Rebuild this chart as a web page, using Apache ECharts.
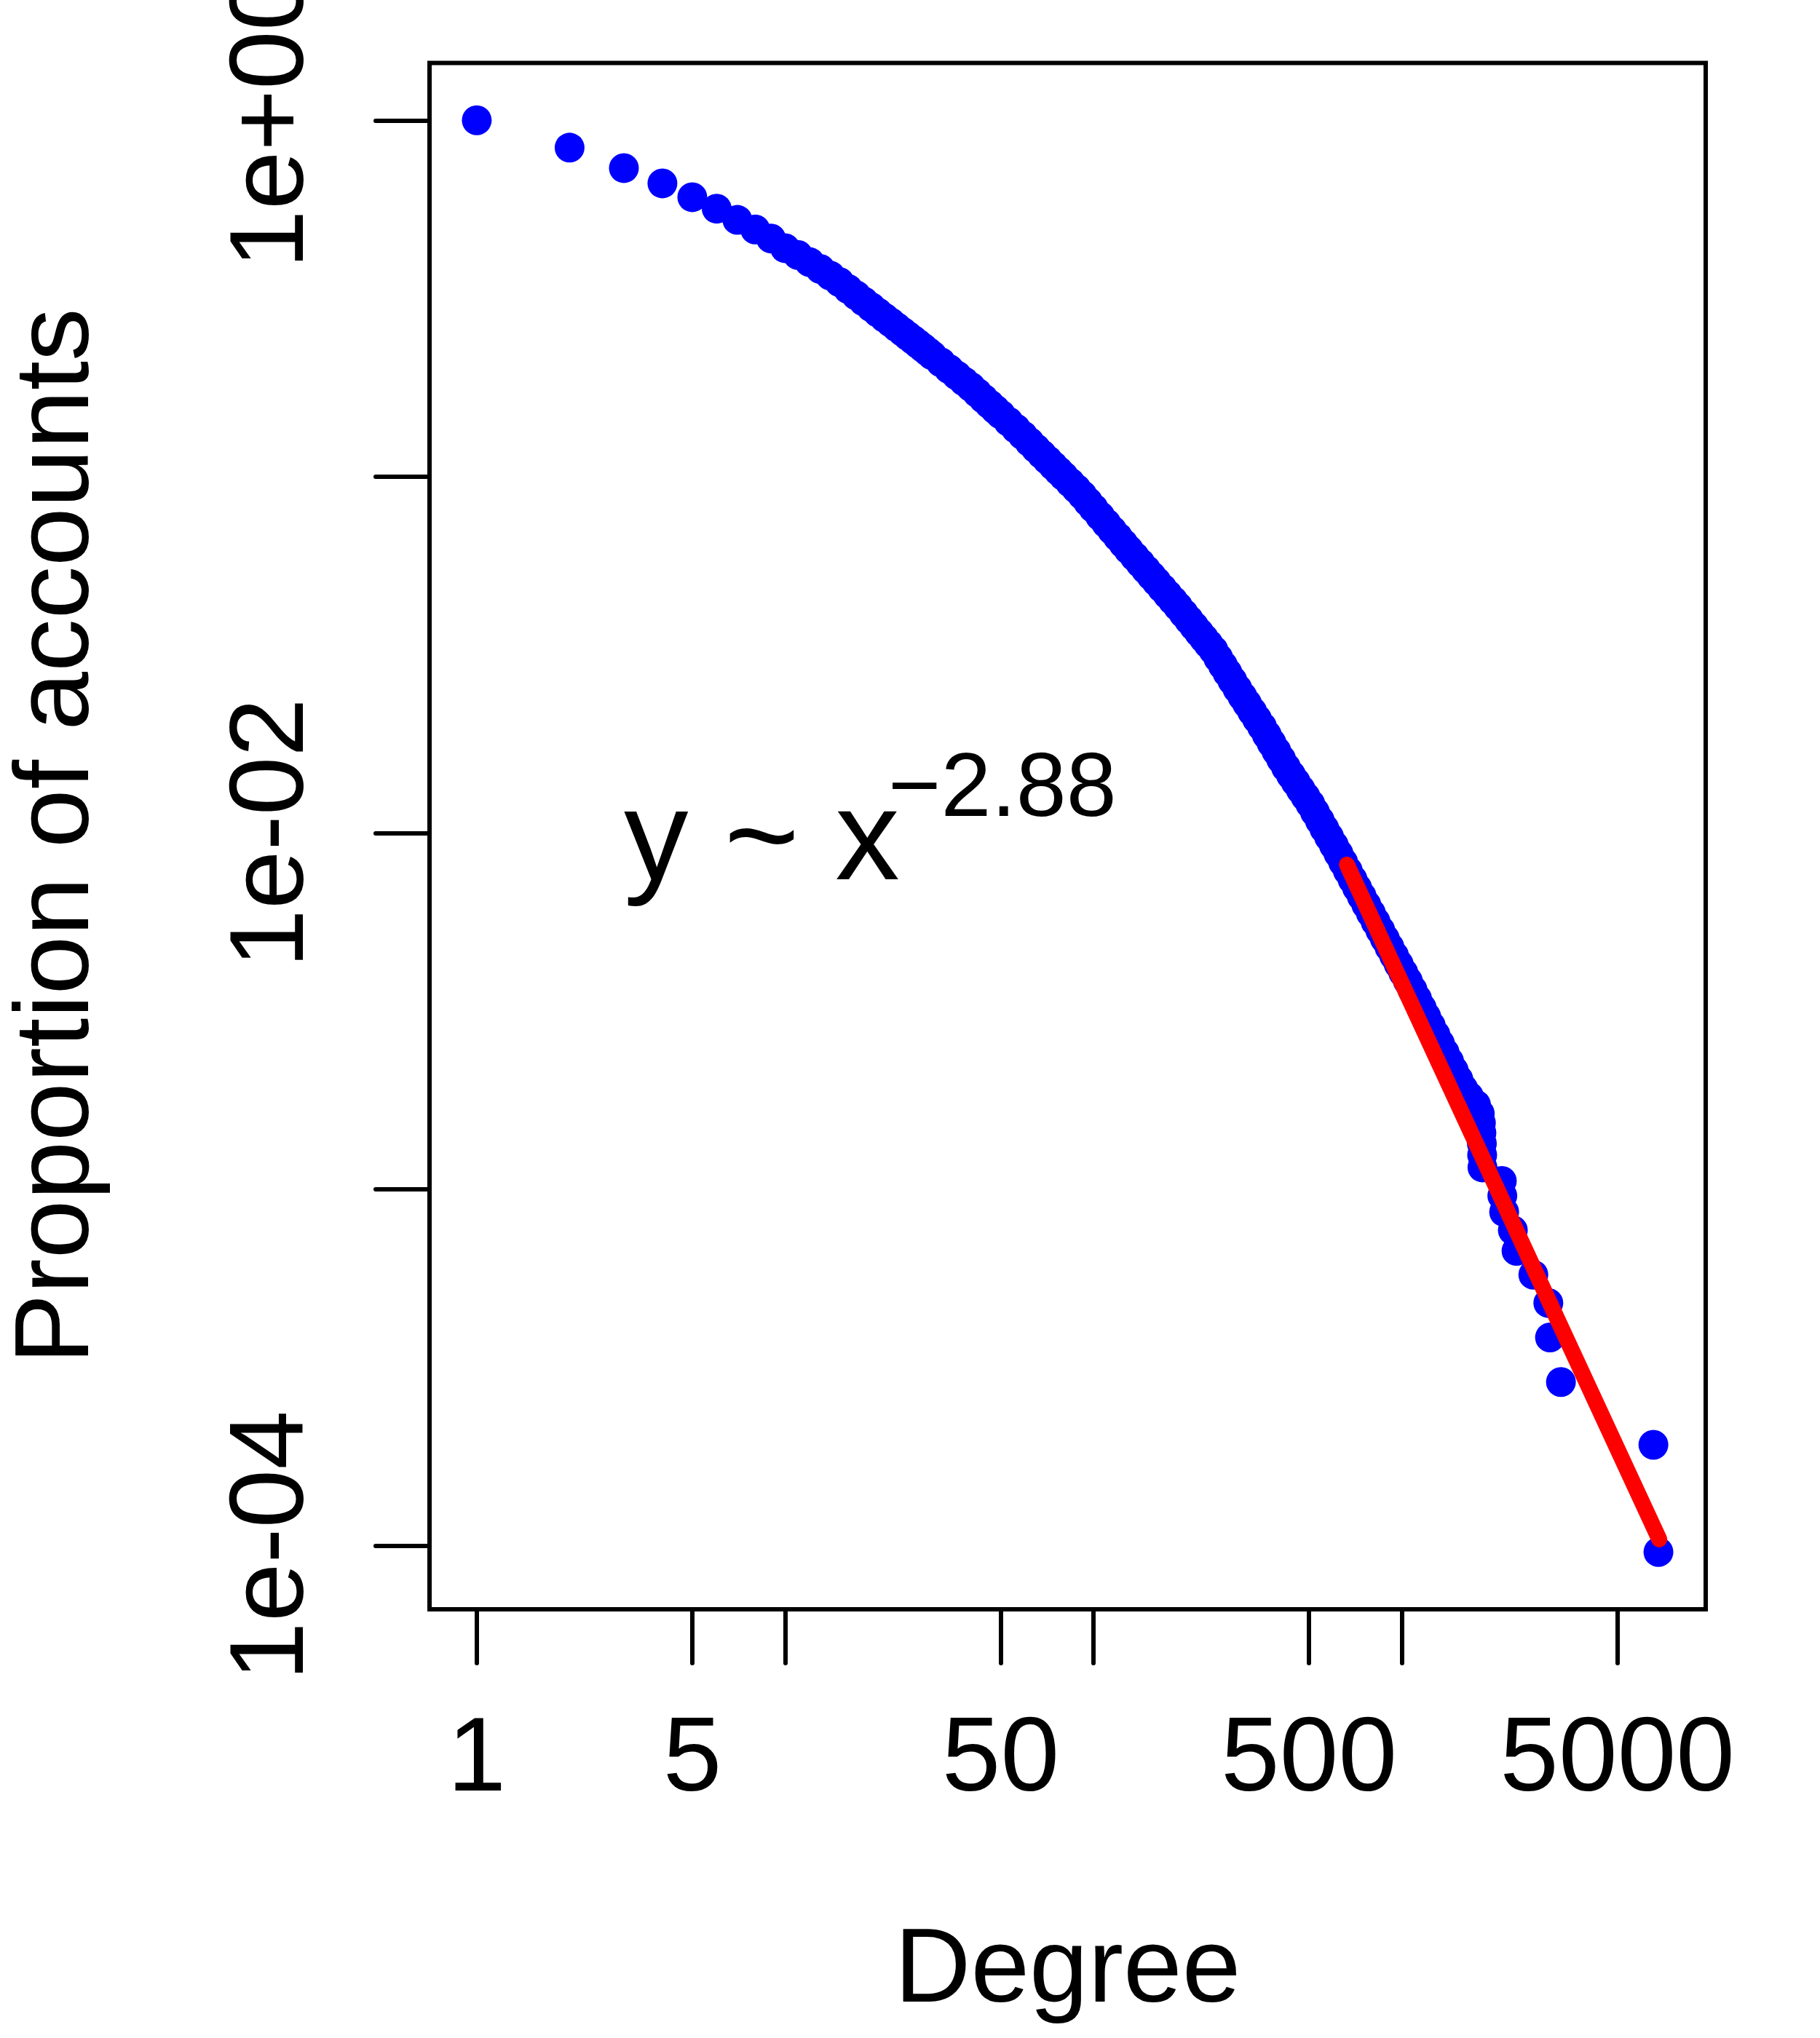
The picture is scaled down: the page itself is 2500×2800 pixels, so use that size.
<!DOCTYPE html>
<html>
<head>
<meta charset="utf-8">
<script src="https://cdn.jsdelivr.net/npm/echarts@6/dist/echarts.min.js"></script>
<style>
html,body{margin:0;padding:0;background:#fff;}
#chart{width:2500px;height:2800px;}
</style>
</head>
<body>
<div id="chart"></div>
<script>
// Degree values (x) and proportion of accounts with at least that degree (y)
const degree = [
  1,2,3,4,5,6,7,8,9,10,11,12,13,14,15,
  16,17,18,19,20,21,22,23,24,25,26,27,28,29,30,
  32,34,36,38,40,42,44,46,48,50,53,56,59,62,65,68,71,74,77,80,84,88,92,96,100,
  105,110,115,120,125,130,136,142,148,154,160,167,174,181,188,196,204,212,220,228,236,245,
  254,263,272,282,293,304,315,327,339,352,365,378,392,406,421,437,453,470,487,505,
  523,542,561,581,602,623,645,668,692,716,741,767,794,822,851,881,912,944,977,1011,1046,
  1083,1121,1160,1200,1242,1285,1330,1376,1424,1474,1525,
  1580,1650,1740,1790,1805,1812,1818,1822,1826,2110,2118,2147,2291,2355,2670,2986,3024,3281,6545,6795
];
const proportion = [
  1.0,0.838,0.7345,0.6653,0.6085,0.565,0.5255,0.494,0.466,0.4378,0.419,0.400,0.3828,0.3667,0.3516,
  0.3363,0.3227,0.3102,0.2990,0.2887,0.2794,0.2708,0.2628,0.2553,0.2484,0.2419,0.2358,0.2300,0.2243,0.2190,
  0.2093,0.2004,0.1925,0.1852,0.1786,0.1718,0.1655,0.1597,0.1544,0.1495,0.1427,0.1365,0.1306,0.1251,0.1201,0.1155,0.1113,0.1074,0.1038,0.1004,0.09625,0.09245,0.08874,0.08496,0.08151,
  0.07755,0.07396,0.07068,0.06769,0.06492,0.06239,0.05965,0.05715,0.05484,0.05272,0.05076,0.04864,0.04670,0.04490,0.04321,0.04133,0.03961,0.03802,0.03654,0.03517,0.03390,0.03257,
  0.03097,0.02951,0.02816,0.02679,0.02540,0.02418,0.02306,0.02193,0.02090,0.01988,0.01884,0.01789,0.01697,0.01611,0.01528,0.01455,0.01389,0.01324,0.01265,0.01206,
  0.01144,0.01084,0.01028,0.009750,0.009239,0.008754,0.008283,0.007837,0.007408,0.007019,0.006647,0.006292,0.005957,0.005636,0.005336,0.005049,0.004780,0.004525,0.004284,0.004058,0.003845,
  0.003630,0.003424,0.003231,0.003051,0.002878,0.002718,0.002564,0.002422,0.002285,0.002155,0.002035,
  0.001919,0.001823,0.001727,0.001631,0.001536,0.001440,0.001344,0.001248,0.001152,0.001056,0.0009597,0.0008637,0.0007678,0.0006718,0.0005758,0.0004798,0.0003839,0.0002879,0.0001919,0.00009597
];
// fitted power-law line (end points)
const fitDegree = [663.7, 6839];
const fitProportion = [0.008147, 0.0001042];

const xTickValues = [1, 5, 10, 50, 100, 500, 1000, 5000];
const xLabelValues = [1, 5, 50, 500, 5000];
const xLabelText = ['1', '5', '50', '500', '5000'];
const yTickValues = [1, 0.1, 0.01, 0.001, 0.0001];
const yLabelValues = [1, 0.01, 0.0001];
const yLabelText = ['1e+00', '1e-02', '1e-04'];

const FONT = '"Liberation Sans", Arial, Helvetica, sans-serif';

function lookup(values, texts) {
  return function (v) {
    for (let i = 0; i < values.length; i++) {
      if (Math.abs(Math.log10(v) - Math.log10(values[i])) < 1e-6) return texts[i];
    }
    return '';
  };
}

const chart = echarts.init(document.getElementById('chart'), null, {renderer: 'canvas'});
chart.setOption({
  animation: false,
  backgroundColor: '#ffffff',
  grid: {
    left: 590, right: 157, top: 86.6, bottom: 589,
    outerBoundsMode: 'none', containLabel: false,
    show: true, borderColor: '#000', borderWidth: 6, backgroundColor: 'transparent'
  },
  xAxis: {
    type: 'log', logBase: 10, min: 0.7027, max: 9672,
    name: 'Degree', nameLocation: 'middle', nameGap: 427,
    nameTextStyle: {fontSize: 145, fontFamily: FONT, color: '#000', lineHeight: 145},
    axisLine: {show: false, onZero: false},
    axisTick: {show: true, length: 74, customValues: xTickValues, lineStyle: {color: '#000', width: 6, cap: 'round'}},
    axisLabel: {customValues: xLabelValues, formatter: lookup(xLabelValues, xLabelText),
      fontSize: 145, fontFamily: FONT, color: '#000', margin: 137, lineHeight: 145},
    splitLine: {show: false}, minorTick: {show: false}
  },
  yAxis: {
    type: 'log', logBase: 10, min: 6.628e-5, max: 1.4478,
    name: 'Proportion of accounts', nameLocation: 'middle', nameGap: 436, nameRotate: 90,
    nameTextStyle: {fontSize: 145, fontFamily: FONT, color: '#000', lineHeight: 145},
    axisLine: {show: false, onZero: false},
    axisTick: {show: true, length: 74, customValues: yTickValues, lineStyle: {color: '#000', width: 6, cap: 'round'}},
    axisLabel: {customValues: yLabelValues, formatter: lookup(yLabelValues, yLabelText), rotate: 90,
      fontSize: 145, fontFamily: FONT, color: '#000', margin: 141, lineHeight: 145},
    splitLine: {show: false}, minorTick: {show: false}
  },
  graphic: [
    {type: 'text', x: 857, y: 1159, z: 100,
      style: {text: 'y ~ x', fontSize: 177, fontFamily: FONT, fill: '#000', align: 'left', verticalAlign: 'middle', lineHeight: 177}},
    {type: 'text', x: 1220, y: 1087, z: 100,
      style: {text: '\u22122.88', fontSize: 124, fontFamily: FONT, fill: '#000', align: 'left', verticalAlign: 'middle', lineHeight: 124}}
  ],
  series: [
    {
      type: 'scatter', symbol: 'circle', symbolSize: 41,
      itemStyle: {color: '#0000ff', opacity: 1},
      data: degree.map((d, i) => [d, proportion[i]]),
      clip: false, z: 2
    },
    {
      type: 'line', symbol: 'none',
      lineStyle: {color: '#ff0000', width: 22, cap: 'round'},
      data: fitDegree.map((d, i) => [d, fitProportion[i]]),
      z: 3
    }
  ]
});
</script>
</body>
</html>
